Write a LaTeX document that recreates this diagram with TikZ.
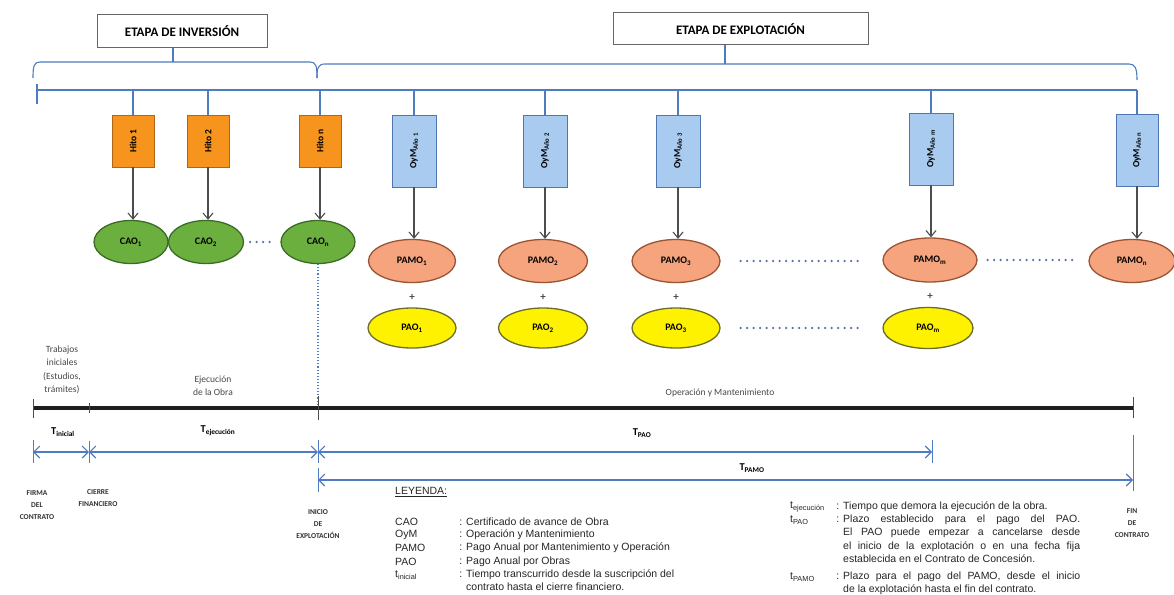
\documentclass[tikz,border=0pt]{standalone}
\usepackage{fontspec}
\setmainfont{Carlito}
\newfontfamily\legendfont{Liberation Sans}
\usetikzlibrary{shapes.geometric,arrows.meta}

\definecolor{linkblue}{HTML}{4F7CC0}
\definecolor{hitofill}{HTML}{F7941E}
\definecolor{hitodraw}{HTML}{B06618}
\definecolor{oymfill}{HTML}{A9CBEF}
\definecolor{oymdraw}{HTML}{4E76B0}
\definecolor{caofill}{HTML}{6BAF3F}
\definecolor{caodraw}{HTML}{3C6B28}
\definecolor{pamofill}{HTML}{F5A47E}
\definecolor{pamodraw}{HTML}{9A5434}
\definecolor{paofill}{HTML}{FFF200}
\definecolor{paodraw}{HTML}{6B6B2A}
\definecolor{dotblue}{HTML}{5470A8}
\definecolor{arrowgray}{HTML}{4D4D4D}

\begin{document}
\begin{tikzpicture}[x=1pt,y=-1pt,
  stagebox/.style={draw=black!60,line width=1pt,fill=white,minimum height=33pt,inner sep=0pt,
    font=\bfseries\fontsize{13}{15}\selectfont},
  bracket/.style={draw=linkblue,line width=1.1pt},
  hitobox/.style={draw=hitodraw,fill=hitofill,line width=0.9pt,minimum width=42pt,minimum height=52pt,
    inner sep=0pt,font=\bfseries\fontsize{9.5}{10}\selectfont},
  oymbox/.style={draw=oymdraw,fill=oymfill,line width=0.9pt,minimum width=44pt,minimum height=72pt,
    inner sep=0pt,font=\bfseries\fontsize{9.5}{10}\selectfont},
  oval/.style={ellipse,inner sep=0pt,line width=1.3pt,minimum height=43pt,font=\bfseries\fontsize{10}{11}\selectfont},
  caonode/.style={oval,draw=caodraw,fill=caofill,minimum width=74pt},
  pamonode/.style={oval,draw=pamodraw,fill=pamofill,minimum width=87pt},
  paonode/.style={oval,draw=paodraw,fill=paofill,minimum width=88pt,minimum height=40pt},
  flow/.style={draw=arrowgray,line width=1.1pt,-{Straight Barb[length=6pt,width=10pt]}},
  dotrow/.style={draw=dotblue,line width=2.6pt,line cap=round,dash pattern=on 0pt off 6.5pt},
  plusmark/.style={font=\bfseries\fontsize{11}{11}\selectfont,text=black!70,inner sep=0pt},
  timeline/.style={draw=black!88,line width=3.6pt},
  tickmark/.style={draw=black!70,line width=0.8pt},
  span/.style={draw=linkblue,line width=1.1pt,{Straight Barb[length=6pt,width=12pt]}-{Straight Barb[length=6pt,width=12pt]}},
  spanbar/.style={draw=linkblue,line width=1pt},
  note/.style={font=\fontsize{9.5}{13.3}\selectfont,align=center,text=black!72,inner sep=0pt},
  milestone/.style={font=\bfseries\fontsize{7.5}{12}\selectfont,align=center,text=black!80,inner sep=0pt},
  tlabel/.style={font=\bfseries\fontsize{10.5}{12}\selectfont,inner sep=0pt},
  legend/.style={font=\legendfont\fontsize{10.5}{13.5}\selectfont,inner sep=0pt,text=black!85},
]
\useasboundingbox[fill=white] (0,0) rectangle (1174,594);

% stage headers
\node[stagebox,minimum width=170pt] (inv) at (182,31.5) {ETAPA DE INVERSIÓN};
\node[stagebox,minimum width=255pt,minimum height=32pt] (exp) at (740.5,29) {ETAPA DE EXPLOTACIÓN};

% brackets under the headers
\coordinate (invmid) at (173,62);
\coordinate (expmid) at (725,64);
\draw[bracket] (33,78) .. controls (33,66) and (34,62) .. (40,62) -- (310,62)
  .. controls (316,62) and (317,66) .. (317,78);
\draw[bracket] (317,78) .. controls (317,68) and (318,64) .. (325,64) -- (1129,64)
  .. controls (1135,64) and (1137,68) .. (1137,80);
\draw[bracket] (invmid |- inv.south) -- (invmid);
\draw[bracket] (expmid |- exp.south) -- (expmid);

% distribution line
\coordinate (busL) at (37,90);
\coordinate (busR) at (1137,90);
\draw[bracket] (busL) -- (busR);
\draw[bracket] (37,84) -- (37,104);

% milestones of the works
\node[hitobox] (h1) at (133,141) {\rotatebox{90}{Hito 1}};
\node[hitobox] (h2) at (208,141) {\rotatebox{90}{Hito 2}};
\node[hitobox] (hn) at (320,141) {\rotatebox{90}{Hito n}};

\node[caonode] (c1) at (131,242) {CAO\textsubscript{1}};
\node[caonode,minimum width=75pt] (c2) at (206,242) {CAO\textsubscript{2}};
\node[caonode] (cn) at (318,242) {CAO\textsubscript{n}};

% yearly operation and maintenance
\node[oymbox] (o1) at (414,151) {\rotatebox{90}{OyM\textsubscript{Año 1}}};
\node[oymbox] (o2) at (545,151) {\rotatebox{90}{OyM\textsubscript{Año 2}}};
\node[oymbox] (o3) at (678,151) {\rotatebox{90}{OyM\textsubscript{Año 3}}};
\node[oymbox] (om) at (931,149) {\rotatebox{90}{OyM\textsubscript{Año m}}};
\node[oymbox,minimum width=42pt] (on) at (1137,150) {\rotatebox{90}{OyM\textsubscript{Año n}}};

\node[pamonode] (p1) at (412,261) {PAMO\textsubscript{1}};
\node[pamonode,minimum width=89pt] (p2) at (543,261) {PAMO\textsubscript{2}};
\node[pamonode,minimum width=88pt] (p3) at (676,261) {PAMO\textsubscript{3}};
\node[pamonode,minimum width=94pt,minimum height=44pt] (pm) at (930,260) {PAMO\textsubscript{m}};
\node[pamonode,minimum width=86pt] (pn) at (1132,261) {PAMO\textsubscript{n}};

\node[plusmark] (pl1) at (412,297) {+};
\node[plusmark] (pl2) at (543,297) {+};
\node[plusmark] (pl3) at (676,297) {+};
\node[plusmark] (plm) at (930,296) {+};

\node[paonode] (a1) at (412,328) {PAO\textsubscript{1}};
\node[paonode,minimum width=89pt] (a2) at (543,328) {PAO\textsubscript{2}};
\node[paonode] (a3) at (676,328) {PAO\textsubscript{3}};
\node[paonode,minimum width=90pt,minimum height=41pt] (am) at (928,328) {PAO\textsubscript{m}};

% drops from the distribution line
\foreach \n in {h1,h2,hn,o1,o2,o3,om,on}
  \draw[bracket] (\n.north) -- (\n.north |- busL);

% flows
\foreach \a/\b in {h1/c1,h2/c2,hn/cn,o1/p1,o2/p2,o3/p3,om/pm,on/pn}
  \draw[flow] (\a.south) -- (\a.south |- \b.north);

% continuation dots
\draw[dotrow,shorten <=6pt,shorten >=8pt] (c2.east) -- (cn.west);
\draw[dotrow,shorten <=20pt,shorten >=23pt] (p3.east) -- (p3.east -| pm.west);
\draw[dotrow,shorten <=10pt,shorten >=11pt] (pm.east) -- (pm.east -| pn.west);
\draw[dotrow,shorten <=20pt,shorten >=22pt] (a3.east) -- (a3.east -| am.west);

% time axis
\coordinate (tA) at (33,408);
\coordinate (tB) at (89,408);
\coordinate (tC) at (318,408);
\coordinate (tD) at (1133,408);
\draw[dotted,draw=linkblue,line width=1.1pt] (cn.south) -- (cn.south |- tC);
\draw[timeline] (tA) -- (tD);
\draw[tickmark] (33,399) -- (33,418);
\draw[tickmark] (89,403) -- (89,413);
\draw[tickmark] (318,396) -- (318,420);
\draw[tickmark] (1133,397) -- (1133,418);

\node[note] (trab) at (62,370) {Trabajos\\iniciales\\(Estudios,\\trámites)};
\node[note] (ejec) at (213,386) {Ejecución\\de la Obra};
\node[note] (opm) at (720,393) {Operación y Mantenimiento};

% durations
\coordinate (sA) at (33,452);
\coordinate (sB) at (89,452);
\coordinate (sC) at (318,452);
\coordinate (sE) at (932,452);
\coordinate (rC) at (318,480);
\coordinate (rD) at (1133,480);
\draw[span] (sA) -- (sB);
\draw[span] (sB) -- (sC);
\draw[span] (sC) -- (sE);
\draw[span] (rC) -- (rD);
\draw[spanbar] (33,440) -- (33,463);
\draw[spanbar] (89,441) -- (89,463);
\draw[spanbar] (318,440) -- (318,463);
\draw[spanbar] (932,440) -- (932,463);
\draw[spanbar] (318,468) -- (318,492);
\draw[spanbar] (1133,435) -- (1133,491);

\node[tlabel] (tini) at (63,432) {T\textsubscript{inicial}};
\node[tlabel] (teje) at (218,431) {T\textsubscript{ejecución}};
\node[tlabel] (tpao) at (642,433) {T\textsubscript{PAO}};
\node[tlabel] (tpamo) at (752,468) {T\textsubscript{PAMO}};

% key dates
\node[milestone] (firma) at (37,505) {FIRMA\\DEL\\CONTRATO};
\node[milestone] (cierre) at (98,498) {CIERRE\\FINANCIERO};
\node[milestone] (inicio) at (318,524) {INICIO\\DE\\EXPLOTACIÓN};
\node[milestone] (fin) at (1132,523) {FIN\\DE\\CONTRATO};

% legend
\node[legend,anchor=west] (ley) at (395,492) {\underline{LEYENDA:}};
\node[legend,anchor=west] (k1) at (395,522) {CAO};
\node[legend,anchor=west] (k2) at (395,535) {OyM};
\node[legend,anchor=west] (k3) at (395,548) {PAMO};
\node[legend,anchor=west] (k4) at (395,562) {PAO};
\node[legend,anchor=west] (k5) at (395,575) {t\textsubscript{inicial}};
\node[legend,anchor=west] (d1) at (466,522) {\llap{: }Certificado de avance de Obra};
\node[legend,anchor=west] (d2) at (466,535) {\llap{: }Operación y Mantenimiento};
\node[legend,anchor=west] (d3) at (466,548) {\llap{: }Pago Anual por Mantenimiento y Operación};
\node[legend,anchor=west] (d4) at (466,562) {\llap{: }Pago Anual por Obras};
\node[legend,anchor=north west,align=left] (d5) at (466,569.5)
  {\llap{: }Tiempo transcurrido desde la suscripción del\\contrato hasta el cierre financiero.};

\node[legend,anchor=west] (k6) at (790,507) {t\textsubscript{ejecución}};
\node[legend,anchor=west] (k7) at (790,520) {t\textsubscript{PAO}};
\node[legend,anchor=west] (k8) at (790,577) {t\textsubscript{PAMO}};
\node[legend,anchor=west] (d6) at (843,507) {\llap{: }Tiempo que demora la ejecución de la obra.};
\node[legend,anchor=north west,text width=237pt,align=justify] (d7) at (843,514.5)
  {\llap{: }Plazo establecido para el pago del PAO.\linebreak
   El PAO puede empezar a cancelarse desde\linebreak
   el inicio de la explotación o en una fecha fija\linebreak
   establecida en el Contrato de Concesión.};
\node[legend,anchor=north west,text width=237pt,align=justify] (d8) at (843,571.5)
  {\llap{: }Plazo para el pago del PAMO, desde el inicio\linebreak
   de la explotación hasta el fin del contrato.};
\end{tikzpicture}
\end{document}
